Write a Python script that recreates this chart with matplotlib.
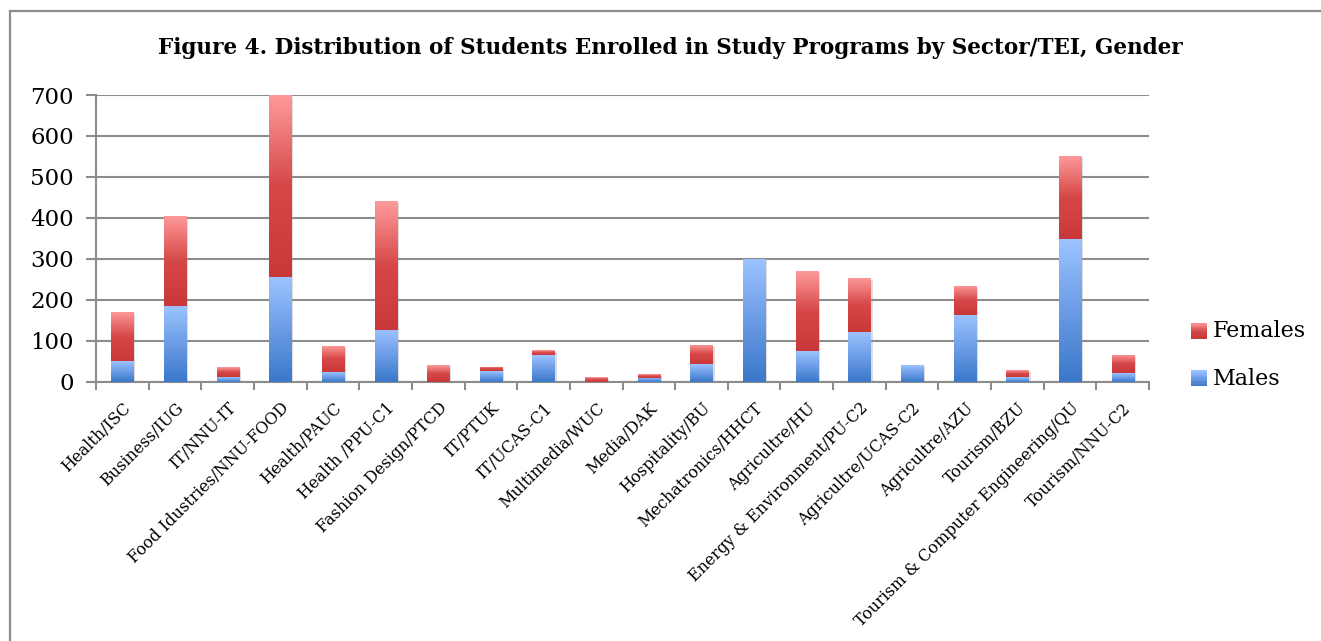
import numpy as np
import matplotlib
matplotlib.use('Agg')
import matplotlib.pyplot as plt
from matplotlib.colors import LinearSegmentedColormap
from matplotlib.patches import Rectangle
from matplotlib.lines import Line2D
from matplotlib.legend_handler import HandlerBase
import matplotlib.patheffects as pe

categories = ["Health/ISC", "Business/IUG", "IT/NNU-IT", "Food Idustries/NNU-FOOD",
              "Health/PAUC", "Health /PPU-C1", "Fashion Design/PTCD", "IT/PTUK",
              "IT/UCAS-C1", "Multimedia/WUC", "Media/DAK", "Hospitality/BU",
              "Mechatronics/HHCT", "Agricultre/HU", "Energy & Environment/PU-C2",
              "Agricultre/UCAS-C2", "Agricultre/AZU", "Tourism/BZU",
              "Tourism & Computer Engineering/QU", "Tourism/NNU-C2"]
males = [50, 185, 12, 255, 23, 127, 0, 26, 65, 0, 10, 43, 300, 75, 121, 41, 163, 12, 348, 21]
females = [120, 220, 24, 445, 64, 314, 41, 10, 12, 11, 9, 47, 0, 195, 132, 0, 71, 17, 203, 44]
y_ticks = [0, 100, 200, 300, 400, 500, 600, 700]
series_names = ["Males", "Females"]
title = "Figure 4. Distribution of Students Enrolled in Study Programs by Sector/TEI, Gender"

FONT = "DejaVu Serif"
W, H = 1321, 641
fig = plt.figure(figsize=(W / 100, H / 100), dpi=100)
fig.patch.set_facecolor("white")

ax = fig.add_axes([96 / W, (H - 381.7) / H, (1149 - 96) / W, (381.7 - 95) / H])

blue_cmap = LinearSegmentedColormap.from_list("b", ["#3a78c9", "#6b9ce6", "#9cc3ff"])
red_cmap = LinearSegmentedColormap.from_list("r", ["#c93838", "#d64848", "#ff9b9b"])

x = np.arange(len(categories))
bw = 0.42
shadow = [pe.SimplePatchShadow(offset=(1.5, -1.5), shadow_rgbFace="#999999", alpha=0.35), pe.Normal()]
b1 = ax.bar(x, males, bw, color="#6b9ce6", zorder=3, label=series_names[0])
b2 = ax.bar(x, females, bw, bottom=males, color="#e06060", zorder=3, label=series_names[1])

grad = np.linspace(0, 1, 256).reshape(-1, 1)
for cont, cmap in ((b1, blue_cmap), (b2, red_cmap)):
    for r in cont:
        r.set_path_effects(shadow)
        h = r.get_height()
        if h <= 0:
            r.set_visible(False)
            continue
        x0, y0, w = r.get_x(), r.get_y(), r.get_width()
        im = ax.imshow(grad, extent=[x0, x0 + w, y0, y0 + h], origin="lower",
                       aspect="auto", cmap=cmap, zorder=4, interpolation="bilinear")
        im.set_clip_path(r)

ax.set_xlim(-0.5, len(categories) - 0.5)
ax.set_ylim(0, 700)
ax.set_yticks(y_ticks)
ax.set_yticklabels([str(v) for v in y_ticks], fontsize=16.5, family=FONT)
ax.yaxis.grid(True, color="#8c8c8c", linewidth=1.5, zorder=0)
ax.set_axisbelow(True)

ax.set_xticks(x)
ax.set_xticklabels(categories, rotation=45, ha="right", va="top",
                   rotation_mode="anchor", fontsize=11.5, family=FONT)
ax.tick_params(axis="x", which="major", length=0, pad=13)
ax.set_xticks(np.arange(len(categories) + 1) - 0.5, minor=True)
ax.tick_params(axis="x", which="minor", length=6, width=1.5, color="#8c8c8c", direction="out")
ax.tick_params(axis="y", length=7, width=1.5, color="#8c8c8c", direction="out", pad=9)

for s in ("top", "right"):
    ax.spines[s].set_visible(False)
for s in ("left", "bottom"):
    ax.spines[s].set_color("#8c8c8c")
    ax.spines[s].set_linewidth(1.5)

fig.text(670 / W, 1 - 48 / H, title, ha="center", va="center",
         fontsize=15.5, fontweight="bold", family=FONT)


class GradHandler(HandlerBase):
    def __init__(self, cmap):
        super().__init__()
        self.cmap = cmap

    def create_artists(self, legend, orig_handle, xdescent, ydescent, width, height, fontsize, trans):
        arts = []
        n = 12
        side = height * 1.0
        x0 = -xdescent + (width - side)
        y0 = -ydescent + (height - side) / 2 - 1
        for i in range(n):
            c = self.cmap((i + 0.5) / n)
            arts.append(Rectangle((x0, y0 + side * i / n), side, side / n + 0.3,
                                  facecolor=c, edgecolor="none", transform=trans))
        return arts


leg = fig.legend([b2, b1], [series_names[1], series_names[0]],
                 handler_map={b2: GradHandler(red_cmap), b1: GradHandler(blue_cmap)},
                 loc="center left", bbox_to_anchor=(1171 / W, 1 - 355 / H),
                 frameon=False, prop={"family": FONT, "size": 16},
                 handlelength=0.7, handletextpad=0.3, labelspacing=1.15)

# chart border (left and top visible)
fig.add_artist(Line2D([10 / W, 10 / W], [0, 1 - 11 / H], transform=fig.transFigure,
                      color="#8c8c8c", linewidth=1.6))
fig.add_artist(Line2D([10 / W, 1], [1 - 11 / H, 1 - 11 / H], transform=fig.transFigure,
                      color="#8c8c8c", linewidth=1.6))

fig.savefig("out.png", dpi=100, facecolor="white")
